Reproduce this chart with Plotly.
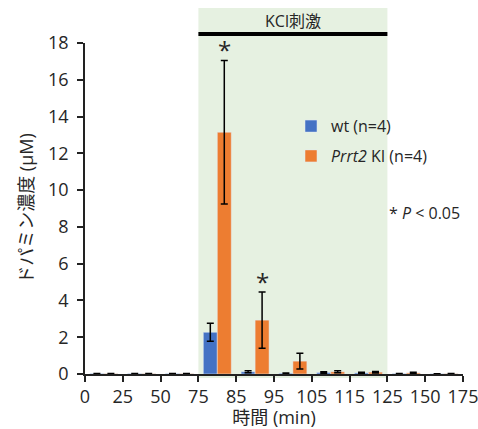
import plotly.graph_objects as go

tick_labels = ["0", "25", "50", "75", "85", "95", "105", "115", "125", "150", "175"]
bin_pos = [0.5, 1.5, 2.5, 3.5, 4.5, 5.5, 6.5, 7.5, 8.5, 9.5]
wt_vals = [0.02, 0.02, 0.02, 2.27, 0.12, 0.04, 0.08, 0.06, 0.02, 0.01]
wt_err = [0.01, 0.01, 0.01, 0.49, 0.05, 0.02, 0.04, 0.03, 0.01, 0.01]
ki_vals = [0.02, 0.02, 0.02, 13.15, 2.93, 0.7, 0.12, 0.1, 0.06, 0.02]
ki_err = [0.01, 0.01, 0.01, 3.9, 1.53, 0.43, 0.05, 0.04, 0.03, 0.01]
sig_bins = [3.5, 4.5]
sig_tops = [13.15 + 3.9, 2.93 + 1.53]

FONT = "Open Sans, Noto Sans CJK JP"
TXT = "#262626"

fig = go.Figure()
fig.add_trace(go.Bar(
    x=bin_pos, y=wt_vals, name="wt (n=4)", marker_color="#4472C4",
    error_y=dict(type="data", array=wt_err, color="black", thickness=1.5, width=3.5),
    legendgroup="a",
))
fig.add_trace(go.Bar(
    x=bin_pos, y=ki_vals, name="<i>Prrt2</i> KI (n=4)", marker_color="#ED7D31",
    error_y=dict(type="data", array=ki_err, color="black", thickness=1.5, width=3.5),
    legendgroup="b",
))

shapes = [
    dict(type="rect", xref="paper", yref="paper", x0=0.3, x1=0.8, y0=-0.012, y1=1.106,
         fillcolor="#E6F1E1", line_width=0, layer="below"),
    dict(type="line", xref="paper", yref="paper", x0=0.3, x1=0.8, y0=1.027, y1=1.027,
         line=dict(color="black", width=4)),
]

annotations = [
    dict(xref="paper", yref="paper", x=0.55, y=1.107, text="KCl刺激", showarrow=False,
         font=dict(family=FONT, size=16, color=TXT)),
    dict(xref="paper", yref="paper", x=0.80, y=0.486, text="* <i>P</i> < 0.05", showarrow=False,
         xanchor="left", font=dict(family=FONT, size=16, color=TXT)),
]
for bx, top in zip(sig_bins, sig_tops):
    annotations.append(dict(x=bx + 0.2, y=top, text="*", showarrow=False, yanchor="bottom",
                            yshift=-8, font=dict(family=FONT, size=24, color=TXT)))

fig.update_layout(
    width=478, height=429,
    margin=dict(l=85, r=15, t=43, b=55, autoexpand=False),
    paper_bgcolor="white", plot_bgcolor="rgba(0,0,0,0)",
    barmode="group", bargap=0.26, bargroupgap=0,
    font=dict(family=FONT, size=18, color=TXT),
    shapes=shapes, annotations=annotations,
    legend=dict(x=0.545, y=0.80, xanchor="left", yanchor="top", bgcolor="rgba(0,0,0,0)",
                font=dict(family=FONT, size=16, color=TXT), traceorder="grouped",
                tracegroupgap=6),
    xaxis=dict(range=[0, 10], tickmode="array", tickvals=list(range(11)), ticktext=tick_labels,
               showline=True, linecolor="#222", linewidth=1.5, ticks="outside", ticklen=6,
               tickcolor="#222", tickwidth=1.5, showgrid=False, zeroline=False, automargin=False,
               ticklabeloverflow="allow",
               title=dict(text="時間 (min)", font=dict(family=FONT, size=18, color=TXT), standoff=6),
               tickfont=dict(size=18)),
    yaxis=dict(range=[0, 18], dtick=2, showline=True, linecolor="#222", linewidth=1.5,
               ticks="outside", ticklen=6, tickcolor="#222", tickwidth=1.5, showgrid=False,
               zeroline=False, automargin=False, ticklabelstandoff=5,
               title=dict(text="ドパミン濃度 (μM)", font=dict(family=FONT, size=18, color=TXT), standoff=10),
               tickfont=dict(size=18)),
)

fig.write_html("out.html", config={"displayModeBar": False},
               post_script="document.body.style.margin='0';")
